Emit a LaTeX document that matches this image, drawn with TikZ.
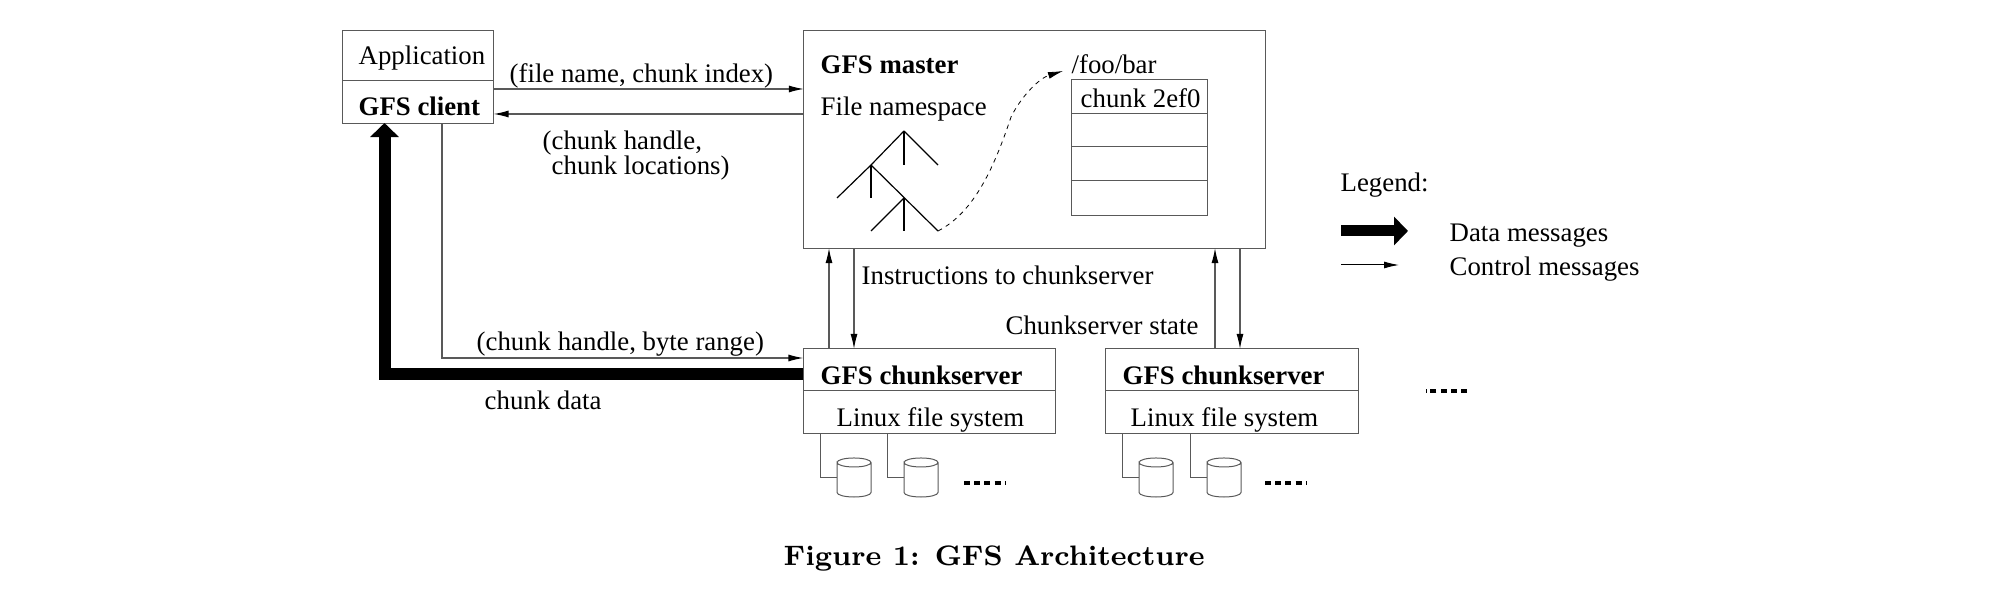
\documentclass[tikz,border=0pt]{standalone}
\usepackage{fontspec}
\usepackage{tikz}
\usetikzlibrary{arrows.meta}
\newfontfamily\timesfam{Liberation Serif}
\definecolor{edge}{gray}{0.35}

\tikzset{
	box/.style={draw=edge,line width=0.01cm,inner sep=0pt,outer sep=0pt},
	txt/.style={anchor=base west,inner sep=0pt,xshift=-0.01cm,yshift=-0.015cm,font=\timesfam\fontsize{7.62}{9}\selectfont},
	txtb/.style={txt,font=\timesfam\bfseries\fontsize{7.62}{9}\selectfont},
	ctl/.style={draw=edge,line width=0.012cm,-{Latex[length=0.15cm,width=0.07cm,color=black]}},
	dat/.style={line width=0.12cm,miter limit=10,-{Triangle[length=0.14cm,width=0.28cm]}},
	lnk/.style={draw=edge,line width=0.01cm},
	disk/.style={inner sep=0pt,outer sep=0pt,minimum width=0.34cm,minimum height=0.39cm},
	more/.style={line width=0.032cm,dash pattern=on 0.06cm off 0.042cm},
	branch/.style={line width=0.012cm}
}
\newcommand{\drawdisk}[1]{\draw[lnk] ([yshift=0.15cm]#1.west) arc[start angle=180,end angle=-180,x radius=0.17cm,y radius=0.045cm] -- ([yshift=-0.15cm]#1.west) arc[start angle=180,end angle=360,x radius=0.17cm,y radius=0.045cm] -- ([yshift=0.15cm]#1.east);}

\begin{document}
\begin{tikzpicture}[x=0.01cm,y=-0.01cm]
	\useasboundingbox (0,0) rectangle (1994,592);
	% client
	\node[box,minimum width=1.51cm,minimum height=0.92cm] (client) at (418,77) {};
	\draw[lnk] (client.west |- 0,81) -- (client.east |- 0,81);
	\node[txt] (apptxt) at (359,63) {Application};
	\node[txtb] (clienttxt) at (359,114) {GFS client};
	% master
	\node[box,minimum width=4.61cm,minimum height=2.17cm] (master) at (1034.5,139.5) {};
	\node[txtb] (mastertxt) at (821,72) {GFS master};
	\node[txt] (nstxt) at (821,114) {File namespace};
	\node[txt] (footxt) at (1072,72) {/foo/bar};
	\node[box,minimum width=1.35cm,minimum height=1.35cm] (rows) at (1139.5,147.5) {};
	\draw[lnk] (rows.west |- 0,114) -- (rows.east |- 0,114);
	\draw[lnk] (rows.west |- 0,147) -- (rows.east |- 0,147);
	\draw[lnk] (rows.west |- 0,181) -- (rows.east |- 0,181);
	\node[txt] (rowtxt) at (1081,106) {chunk 2ef0};
	% namespace tree
	\coordinate (t1) at (904,131);
	\coordinate (t2) at (938,165);
	\coordinate (t3) at (904,165);
	\coordinate (t4) at (871,165);
	\coordinate (t5) at (837,198);
	\coordinate (t6) at (871,198);
	\coordinate (t7) at (904,198);
	\coordinate (t8) at (938,231);
	\coordinate (t9) at (871,231);
	\coordinate (t10) at (904,231);
	\coordinate (t11) at (1063,71);
	\draw[branch] (t1) -- (t2);
	\draw[branch] (t1) -- (t3);
	\draw[branch] (t1) -- (t4) -- (t5);
	\draw[branch] (t4) -- (t6);
	\draw[branch] (t4) -- (t8);
	\draw[branch] (t7) -- (t9);
	\draw[branch] (t7) -- (t10);
	\draw[line width=0.008cm,dash pattern=on 0.045cm off 0.045cm,-{Latex[length=0.15cm,width=0.07cm]}] (t8) .. controls (975,212) and (995,165) .. (1011,117) .. controls (1022,95) and (1040,78) .. (t11);
	% chunkservers
	\node[box,minimum width=2.52cm,minimum height=0.84cm] (cs1) at (929.5,391) {};
	\draw[lnk] (cs1.west) -- (cs1.east);
	\node[txtb] (cs1txt) at (821,383) {GFS chunkserver};
	\node[txt] (fs1txt) at (837,425) {Linux file system};
	\node[box,minimum width=2.52cm,minimum height=0.84cm] (cs2) at (1232,391) {};
	\draw[lnk] (cs2.west) -- (cs2.east);
	\node[txtb] (cs2txt) at (1123,383) {GFS chunkserver};
	\node[txt] (fs2txt) at (1131,425) {Linux file system};
	% disks
	\node[disk] (d1) at (854,477.5) {};
	\node[disk] (d2) at (921,477.5) {};
	\node[disk] (d3) at (1156,477.5) {};
	\node[disk] (d4) at (1224,477.5) {};
	\drawdisk{d1}
	\drawdisk{d2}
	\drawdisk{d3}
	\drawdisk{d4}
	\draw[lnk] (cs1.south -| 820,0) |- (d1.west);
	\draw[lnk] (cs1.south -| 887,0) |- (d2.west);
	\draw[lnk] (cs2.south -| 1122,0) |- (d3.west);
	\draw[lnk] (cs2.south -| 1190,0) |- (d4.west);
	\coordinate (m1a) at (964,483);
	\coordinate (m1b) at (1005,483);
	\coordinate (m2a) at (1265,483);
	\coordinate (m2b) at (1306,483);
	\coordinate (m3a) at (1467,391);
	\coordinate (m3b) at (1426,391);
	\draw[more] (m1a) -- (m1b);
	\draw[more] (m2a) -- (m2b);
	\draw[more] (m3a) -- (m3b);
	% messages
	\draw[ctl] (client.east |- 0,89) -- (master.west |- 0,89);
	\draw[ctl] (master.west |- 0,114) -- (client.east |- 0,114);
	\draw[ctl] (client.south -| 442,0) |- (cs1.west |- 0,358);
	\draw[dat] (cs1.west |- 0,374) -| (client.south -| 384.5,0);
	\draw[ctl] (cs1.north -| 829,0) -- (master.south -| 829,0);
	\draw[ctl] (master.south -| 854,0) -- (cs1.north -| 854,0);
	\draw[ctl] (cs2.north -| 1215,0) -- (master.south -| 1215,0);
	\draw[ctl] (master.south -| 1240,0) -- (cs2.north -| 1240,0);
	\node[txt] (reqtxt) at (510,81) {(file name, chunk index)};
	\node[txt] (replya) at (543,148) {(chunk handle,};
	\node[txt] (replyb) at (552,173) {chunk locations)};
	\node[txt] (insttxt) at (862,283) {Instructions to chunkserver};
	\node[txt] (statetxt) at (1006,333) {Chunkserver state};
	\node[txt] (rangetxt) at (477,349) {(chunk handle, byte range)};
	\node[txt] (datatxt) at (485,408) {chunk data};
	% legend
	\coordinate (l1) at (1341,231);
	\coordinate (l2) at (1408,231);
	\coordinate (l3) at (1341,265);
	\coordinate (l4) at (1399,265);
	\node[txt] (legtxt) at (1341,190) {Legend:};
	\draw[line width=0.11cm,-{Triangle[length=0.14cm,width=0.28cm]}] (l1) -- (l2);
	\draw[line width=0.01cm,-{Latex[length=0.15cm,width=0.07cm]}] (l3) -- (l4);
	\node[txt] (datmsg) at (1450,240) {Data messages};
	\node[txt] (ctlmsg) at (1450,274) {Control messages};
	% caption
	\node[anchor=base west,inner sep=0pt,font=\bfseries\fontsize{8}{10}\selectfont] (caption) at (783,566) {Figure 1: GFS Architecture};
\end{tikzpicture}
\end{document}
